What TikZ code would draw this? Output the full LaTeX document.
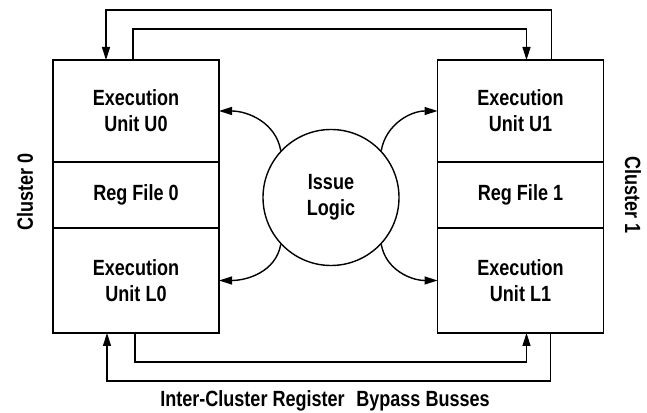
\documentclass[tikz,border=0pt]{standalone}
\usepackage{fontspec}
\setmainfont{Liberation Sans}[FakeStretch=0.82]
\usetikzlibrary{arrows.meta,positioning}

\begin{document}
\begin{tikzpicture}[x=1pt, y=1pt, line width=1.4pt, >={Triangle[length=13pt, width=8pt]}, every node/.style={font=\fontsize{22}{26}\selectfont\bfseries}, part/.style={draw, outer sep=0pt, minimum width=166pt, align=center}]
	\useasboundingbox (0,0) rectangle (647,412);
	\node[part, minimum height=102pt] (u0) at (136,301) {Execution\\ Unit U0};
	\node[part, minimum height=66pt, below=0pt of u0] (rf0) {Reg File 0};
	\node[part, minimum height=105pt, below=0pt of rf0] (l0) {Execution\\ Unit L0};
	\node[part, minimum height=102pt] (u1) at (520.5,301) {Execution\\ Unit U1};
	\node[part, minimum height=66pt, below=0pt of u1] (rf1) {Reg File 1};
	\node[part, minimum height=105pt, below=0pt of rf1] (l1) {Execution\\ Unit L1};
	\node[draw, circle, minimum size=136pt, inner sep=0pt, align=center] (issue) at (331,214.5) {Issue\\ Logic};
	\node[rotate=90] (c0) at (25,220) {Cluster 0};
	\node[rotate=-90] (c1) at (633,217) {Cluster 1};
	\node (buslbl) at (325,11) {Inter-Cluster Register\hspace{0.3em} Bypass Busses};
	\foreach \n/\a/\o/\i in {u0/137/100/0, l0/223/-100/0, u1/43/80/180, l1/-43/-80/180} {\draw[->] (issue.\a) to[out=\o, in=\i] (\n.\ifnum\i=0 east\else west\fi);}
	% bus end points on the unit boxes
	\coordinate (u0a) at ([xshift=-30pt]u0.north);
	\coordinate (u0b) at ([xshift=-3pt]u0.north);
	\coordinate (u1a) at ([xshift=31pt]u1.north);
	\coordinate (u1b) at ([xshift=6pt]u1.north);
	\coordinate (l0a) at ([xshift=-29pt]l0.south);
	\coordinate (l0b) at ([xshift=-1pt]l0.south);
	\coordinate (l1a) at ([xshift=30pt]l1.south);
	\coordinate (l1b) at ([xshift=6pt]l1.south);
	\coordinate (t1) at (0,402);
	\coordinate (t2) at (0,383);
	\coordinate (b1) at (0,50);
	\coordinate (b2) at (0,31);
	\draw[<-] (u0a) |- (t1 -| u1a) -- (u1a);
	\draw[->] (u0b) |- (t2 -| u1b) -- (u1b);
	\draw[->] (l0b) |- (b1 -| l1b) -- (l1b);
	\draw[<-] (l0a) |- (b2 -| l1a) -- (l1a);
\end{tikzpicture}
\end{document}
